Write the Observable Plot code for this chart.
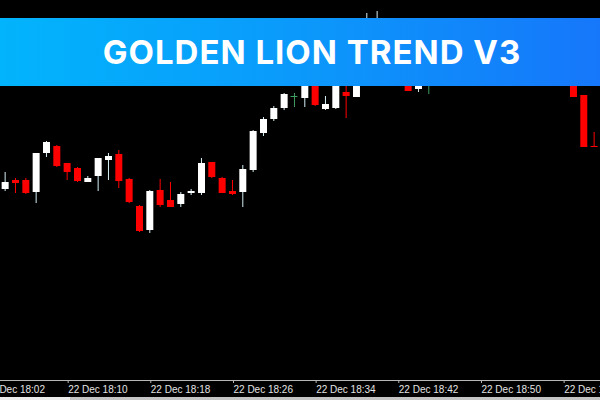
<!DOCTYPE html>
<html><head><meta charset="utf-8">
<script src="https://cdn.jsdelivr.net/npm/d3@7"></script>
<script src="https://cdn.jsdelivr.net/npm/@observablehq/plot@0.6"></script>
<style>
html,body{margin:0;padding:0;background:#000;width:600px;height:400px;overflow:hidden}
#wrap{position:relative;width:600px;height:400px;background:#000}
#banner{position:absolute;left:0;top:18px;width:600px;height:68px;background:linear-gradient(90deg,#02b4fc 0%,#0a9cfb 45%,#1677fa 100%);display:flex;align-items:center;justify-content:center;box-sizing:border-box;padding-left:24px}
#banner span{color:#fff;font-family:Inter,"Open Sans",sans-serif;font-weight:700;font-size:33px;letter-spacing:1px}
#strip1{position:absolute;left:0;top:397px;width:70px;height:3px;background:#ececec}
#strip2{position:absolute;left:70px;top:397px;width:530px;height:3px;background:#c4c4c4}
</style></head>
<body><div id="wrap"><div id="chart"></div><div id="banner"><span>GOLDEN LION TREND V3</span></div><div id="strip1"></div><div id="strip2"></div></div>
<script>
const times = ["18:04","18:05","18:06","18:07","18:08","18:09","18:10","18:11","18:12","18:13","18:14","18:15","18:16","18:17","18:18","18:19","18:20","18:21","18:22","18:23","18:24","18:25","18:26","18:27","18:28","18:29","18:30","18:31","18:32","18:33","18:34","18:35","18:36","18:37","18:38","18:39","18:40","18:43","18:44","18:45","18:59","19:00","19:01"];
const open  = [1981.1,1982.0,1982.0,1980.8,1984.7,1985.4,1983.7,1983.2,1981.8,1982.4,1984.0,1984.6,1982.1,1979.4,1977.0,1981.0,1980.0,1979.6,1980.7,1980.7,1983.8,1982.2,1980.9,1980.8,1983.0,1986.7,1988.1,1989.2,1990.4,1990.2,1993.0,1989.1,1989.2,1990.8,1990.3,1993.0,1995.5,1994.0,1991.1,1993.0,1993.0,1990.5,1985.4];
const high  = [1982.8,1982.2,1982.2,1984.7,1985.9,1985.5,1983.7,1983.3,1982.4,1984.2,1984.7,1985.0,1982.2,1979.5,1981.0,1982.1,1981.8,1980.8,1981.1,1984.2,1983.8,1982.3,1982.0,1983.5,1987.0,1988.3,1989.4,1990.7,1990.7,1994.0,1994.0,1990.4,1993.0,1991.6,1994.0,1998.7,1998.9,1995.0,1992.5,1994.0,1994.0,1990.5,1986.8];
const low   = [1980.9,1980.7,1980.6,1979.7,1984.3,1983.3,1982.0,1981.8,1981.8,1980.9,1982.0,1981.2,1979.7,1976.8,1976.7,1979.3,1979.3,1979.3,1980.5,1980.5,1982.2,1980.7,1980.5,1979.3,1982.8,1986.4,1987.9,1989.0,1989.3,1989.3,1989.4,1989.0,1989.1,1988.2,1990.3,1992.5,1994.0,1990.9,1990.8,1990.6,1990.3,1985.3,1985.3];
const close = [1981.8,1981.7,1980.7,1984.7,1985.8,1983.4,1982.8,1981.9,1982.2,1984.2,1984.4,1981.9,1979.8,1976.9,1980.9,1979.5,1979.3,1980.6,1980.9,1983.7,1982.3,1980.7,1980.6,1983.1,1986.9,1988.1,1989.2,1990.6,1990.4,1993.0,1989.5,1989.6,1992.0,1990.4,1992.5,1996.0,1997.5,1990.9,1992.0,1993.0,1990.3,1985.3,1985.3];
const tickLabels = ["18:02","18:10","18:18","18:26","18:34","18:42","18:50","18:58"];
const xDomain = ["18:03:33","19:01:37"];
const yDomain = [1962, 2000];

const toDate = s => { const [h,m,sec] = s.split(":").map(Number); return new Date(2023, 11, 22, h, m, sec || 0); };
const candles = times.map((t, i) => ({t: toDate(t), o: open[i], h: high[i], l: low[i], c: close[i]}));
const kind = d => d.c > d.o ? "bull" : d.c < d.o ? "bear" : "doji";
const bodyColor = {bull: "#ffffff", bear: "#ff0000", doji: "#3f9f5f"};
const wickColor = {bull: "#d4eef4", bear: "#ff0000", doji: "#3f9f5f"};
const half = 20 * 1000;

const chart = Plot.plot({
  width: 600, height: 400,
  marginTop: 0, marginBottom: 20, marginLeft: 0, marginRight: 0,
  style: {background: "#000", color: "#e4e4e4", fontFamily: "'Liberation Sans', sans-serif", fontSize: "10px"},
  x: {type: "time", domain: xDomain.map(toDate)},
  y: {domain: yDomain, axis: null},
  marks: [
    Plot.ruleY([yDomain[0]], {stroke: "#b8b8b8", strokeWidth: 1}),
    Plot.axisX(tickLabels.map(toDate), {tickFormat: d3.timeFormat("%d %b %H:%M"), textAnchor: "start", dx: 1, tickSize: 3, tickPadding: 2, stroke: "#b8b8b8", fill: "#e4e4e4", label: null}),
    Plot.ruleX(candles, {x: "t", y1: "l", y2: "h", stroke: d => wickColor[kind(d)], strokeWidth: 1}),
    Plot.ruleX(candles.filter(d => kind(d) !== "doji"), {x: "t", y1: "o", y2: "c", stroke: d => bodyColor[kind(d)], strokeWidth: 7}),
    Plot.ruleY(candles.filter(d => kind(d) === "doji"), {x1: d => new Date(+d.t - half), x2: d => new Date(+d.t + half), y: "o", stroke: d => bodyColor[kind(d)], strokeWidth: 1})
  ]
});
document.getElementById("chart").appendChild(chart);
</script></body></html>
